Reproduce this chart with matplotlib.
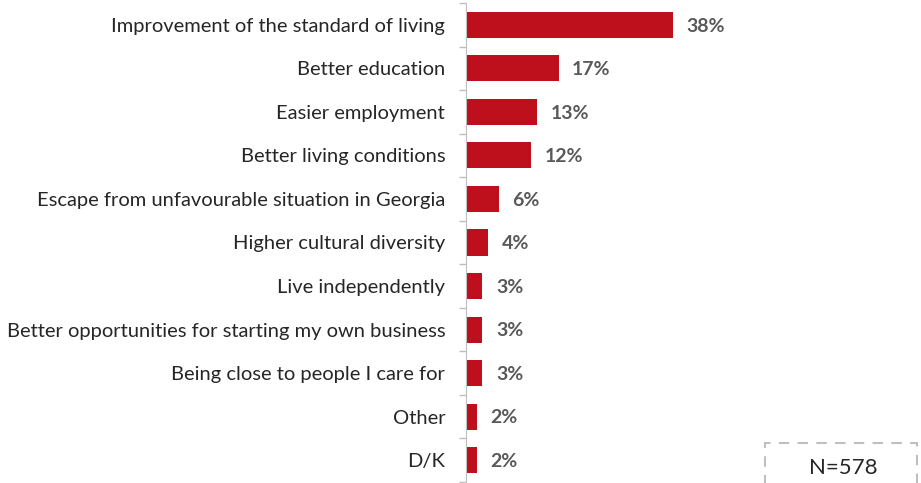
import matplotlib
matplotlib.use('Agg')
import matplotlib.pyplot as plt
import numpy as np

categories = ['Improvement of the standard of living', 'Better education', 'Easier employment',
              'Better living conditions', 'Escape from unfavourable situation in Georgia',
              'Higher cultural diversity', 'Live independently',
              'Better opportunities for starting my own business', 'Being close to people I care for',
              'Other', 'D/K']
values = [38, 17, 13, 12, 6, 4, 3, 3, 3, 2, 2]
labels = ['38%', '17%', '13%', '12%', '6%', '4%', '3%', '3%', '3%', '2%', '2%']

plt.rcParams['font.family'] = ['Lato', 'DejaVu Sans']

fig = plt.figure(figsize=(9.21, 4.83), dpi=100)
ax = fig.add_axes([466/921, 1-482/483, 455/921, 479/483])

y = np.arange(len(categories))
ax.barh(y, values, height=0.6, color='#BE0F1C')
for yi, v, t in zip(y, values, labels):
    ax.text(v + 2.5, yi + 0.03, t, va='center', ha='left', fontsize=14, fontweight='bold', color='#595959')

ax.set_ylim(len(categories) - 0.5, -0.5)
ax.set_xlim(0, 83.5)
ax.set_yticks(y)
ax.set_yticklabels(categories, fontsize=14.5, color='#262626')
ax.set_yticks(np.arange(len(categories) + 1) - 0.5, minor=True)
ax.tick_params(axis='y', which='major', length=0, pad=15)
ax.tick_params(axis='y', which='minor', length=5, color='#BFBFBF', width=1)
ax.set_xticks([])
for s in ['top', 'right', 'bottom']:
    ax.spines[s].set_visible(False)
ax.spines['left'].set_color('#BFBFBF')

# N box, dashed border partly cut off
fig.patches.append(matplotlib.patches.Rectangle((765/921, -0.05), 152/921, (483-443)/483 + 0.05,
                                                transform=fig.transFigure, fill=False,
                                                edgecolor='#BFBFBF', linestyle=(0, (5, 4)), linewidth=1.5))
fig.text(843/921, 1-468/483, 'N=578', ha='center', va='center', fontsize=16, color='#262626')

plt.savefig('out.png', dpi=100)
